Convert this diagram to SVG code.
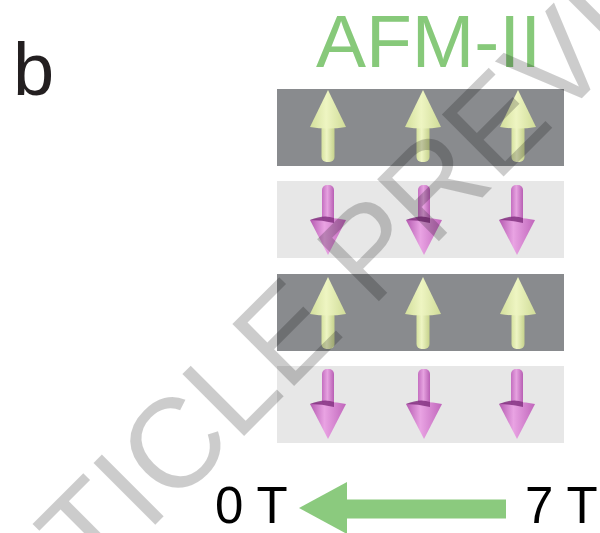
<svg xmlns="http://www.w3.org/2000/svg" width="600" height="533" viewBox="0 0 600 533">
  <style>
    .lbl { font-family: "Liberation Sans", Arial, sans-serif; }
    .dark { fill: #898b8e; }
    .light { fill: #e7e7e7; }
    .wm { font-family: "Liberation Sans", Arial, sans-serif; font-size: 127px; fill: #000; fill-opacity: 0.2; }
  </style>
  <defs>
    <linearGradient id="upCone" x1="0" y1="0" x2="1" y2="0">
      <stop offset="0" stop-color="#d3df9c"/>
      <stop offset="0.45" stop-color="#eef5c2"/>
      <stop offset="1" stop-color="#d0dc98"/>
    </linearGradient>
    <linearGradient id="upShaft" x1="0" y1="0" x2="1" y2="0">
      <stop offset="0" stop-color="#d6e29f"/>
      <stop offset="0.4" stop-color="#eef5c4"/>
      <stop offset="1" stop-color="#c6d28c"/>
    </linearGradient>
    <linearGradient id="dnCone" x1="0" y1="0" x2="1" y2="0">
      <stop offset="0" stop-color="#b45ab0"/>
      <stop offset="0.4" stop-color="#e9a3e3"/>
      <stop offset="1" stop-color="#c066bb"/>
    </linearGradient>
    <linearGradient id="dnShaft" x1="0" y1="0" x2="1" y2="0">
      <stop offset="0" stop-color="#c46ec0"/>
      <stop offset="0.45" stop-color="#e6a2e0"/>
      <stop offset="1" stop-color="#b85fb4"/>
    </linearGradient>
    <!-- spin up: cone 37 tall, shaft 35 long; origin at the tip -->
    <symbol id="spinUp" overflow="visible">
      <rect x="-6.5" y="34" width="13" height="38" rx="5" fill="url(#upShaft)"/>
      <path d="M0 0 L18 37 Q0 40 -18 37 Z" fill="url(#upCone)"/>
    </symbol>
    <!-- spin down: shaft 35 long, cone 35 tall; origin at the shaft top -->
    <symbol id="spinDown" overflow="visible">
      <rect x="-6" y="0" width="12" height="38" rx="5" fill="url(#dnShaft)"/>
      <path d="M-18 35 Q0 31 18 35 L0 70 Z" fill="url(#dnCone)"/>
      <path d="M-18 35 Q-4 29 6 33 L6 38 Q-6 35 -18 35 Z" fill="#7e2c7c" opacity="0.8"/>
    </symbol>
  </defs>

  <text class="lbl" x="13" y="95" font-size="74" fill="#231f20">b</text>
  <text class="lbl" x="316" y="67" font-size="75" fill="#87c97a">AFM-II</text>

  <g id="layer1">
    <rect class="dark" x="277" y="89" width="287" height="77"/>
    <use href="#spinUp" x="328" y="90"/>
    <use href="#spinUp" x="423" y="90"/>
    <use href="#spinUp" x="518" y="90"/>
  </g>
  <g id="layer2">
    <rect class="light" x="277" y="181" width="287" height="77"/>
    <use href="#spinDown" x="328" y="185"/>
    <use href="#spinDown" x="424" y="185"/>
    <use href="#spinDown" x="517" y="185"/>
  </g>
  <g id="layer3">
    <rect class="dark" x="277" y="274" width="287" height="77"/>
    <use href="#spinUp" x="328" y="277"/>
    <use href="#spinUp" x="423" y="277"/>
    <use href="#spinUp" x="518" y="277"/>
  </g>
  <g id="layer4">
    <rect class="light" x="277" y="366" width="287" height="77"/>
    <use href="#spinDown" x="328" y="369"/>
    <use href="#spinDown" x="424" y="369"/>
    <use href="#spinDown" x="517" y="369"/>
  </g>

  <g id="field-start"><text class="lbl" x="215" y="523" font-size="51" fill="#000">0 T</text></g>
  <g id="field-end"><text class="lbl" x="525" y="523" font-size="51" fill="#000">7 T</text></g>

  <g id="connectors">
    <path d="M506 509 H347" stroke="#8bca7e" stroke-width="19" fill="none"/>
    <path d="M347 482 L299 508 L347 534 Z" fill="#8bca7e"/>
  </g>

  <text class="wm" x="-31" y="711" transform="rotate(-45 -31 711)">ARTICLE PREVIEW</text>
</svg>
